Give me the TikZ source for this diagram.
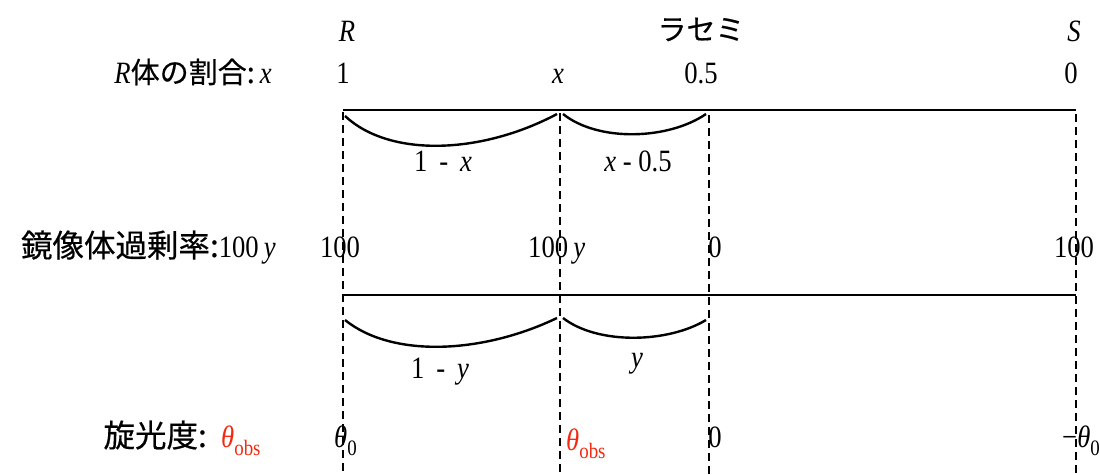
\documentclass[tikz,border=0pt]{standalone}
\usepackage{fontspec}
\setmainfont{Liberation Serif}[FakeStretch=0.86]
\newfontfamily\jp{Noto Sans CJK JP}[FakeBold=0.45]
\definecolor{obsred}{RGB}{245,40,15}
\newcommand\subtxt[1]{\raisebox{-0.28em}{\fontsize{22}{22}\selectfont #1}}
\newcommand\thobs{{\color{obsred}\textit{θ}\subtxt{obs}}}
\newcommand\thzero{\textit{θ}\subtxt{0}}
\begin{document}
\begin{tikzpicture}[x=1pt,y=-1pt,
  lbl/.style={inner sep=0pt, anchor=base, font=\fontsize{31}{36}\selectfont},
  guide/.style={dash pattern=on 8pt off 5pt, line width=1.6pt},
  axisline/.style={line width=2pt},
  arcline/.style={line width=2.4pt}]
\useasboundingbox (0,0) rectangle (1100,474);

% top labels
\node[lbl] (R) at (347,41) {\textit{R}};
\node[lbl, font=\fontsize{29}{32}\selectfont\jp] (rac) at (701,40) {ラセミ};
\node[lbl] (S) at (1074,41) {\textit{S}};

% row 1: fraction of R
\node[lbl, anchor=base east] (l1) at (272,83) {\textit{R}{\fontsize{29}{32}\selectfont\jp 体の割合:}\,\textit{x}};
\node[lbl] (a1) at (343,83) {1};
\node[lbl] (ax) at (558,83) {\textit{x}};
\node[lbl] (a05) at (701,83) {0.5};
\node[lbl] (a0) at (1071,83) {0};

\node[lbl] (d1) at (443,171) {1 \,-\, \textit{x}};
\node[lbl] (d2) at (638,171) {\textit{x} - 0.5};

% row 2: ee
\node[lbl, anchor=base east] (l2) at (276,257) {{\fontsize{31.5}{34}\selectfont\jp 鏡像体過剰率:}100\,\textit{y}};
\node[lbl] (b100) at (340,257) {100};
\node[lbl, anchor=base west] (b100y) at (528,257) {100\,\textit{y}};
\node[lbl] (b0) at (715,257) {0};
\node[lbl] (b100r) at (1074,257) {100};

\node[lbl] (e1) at (440,378) {1 \,-\, \textit{y}};
\node[lbl] (e2) at (637,367) {\textit{y}};

% row 3: rotation
\node[lbl, anchor=base east] (l3) at (207,447) {{\fontsize{31.5}{34}\selectfont\jp 旋光度:}};
\node[lbl, anchor=base west] (l3b) at (221,447) {\thobs};
\node[lbl, anchor=base west] (c0) at (334,447) {\thzero};
\node[lbl, anchor=base west] (cobs) at (566,450) {\thobs};
\node[lbl] (cz) at (715,447) {0};
\node[lbl, anchor=base east] (cm) at (1100,447) {−\thzero};

% coordinates
\coordinate (pR) at (343,110);
\coordinate (pX) at (560,110);
\coordinate (pH) at (709,110);
\coordinate (pS) at (1076,110);
\coordinate (qR) at (343,295);
\coordinate (qS) at (1076,295);
\coordinate (bR) at (343,474);
\coordinate (bX) at (560,474);
\coordinate (bH) at (709,474);
\coordinate (bS) at (1076,474);

% axes
\draw[axisline] (pR) -- (pS);
\draw[axisline] (qR) -- (qS);

% guides
\draw[guide] ([yshift=-2pt]pR) -- (bR);
\draw[guide] ([yshift=-3pt]pX) -- (bX);
\draw[guide] ([yshift=-5pt]pH) -- (bH);
\draw[guide] ([yshift=-4pt]pS) -- (bS);

% arcs
\coordinate (u1) at (345,116);
\coordinate (u2) at (557,114);
\coordinate (u3) at (563,114);
\coordinate (u4) at (706,114);
\draw[arcline] (u1) .. controls (390,158) and (482,154) .. (u2);
\draw[arcline] (u3) .. controls (598,142) and (668,140) .. (u4);
\coordinate (v1) at (345,320);
\coordinate (v2) at (557,318);
\coordinate (v3) at (563,318);
\coordinate (v4) at (706,320);
\draw[arcline] (v1) .. controls (392,358) and (482,354) .. (v2);
\draw[arcline] (v3) .. controls (598,345) and (668,343) .. (v4);
\end{tikzpicture}
\end{document}
